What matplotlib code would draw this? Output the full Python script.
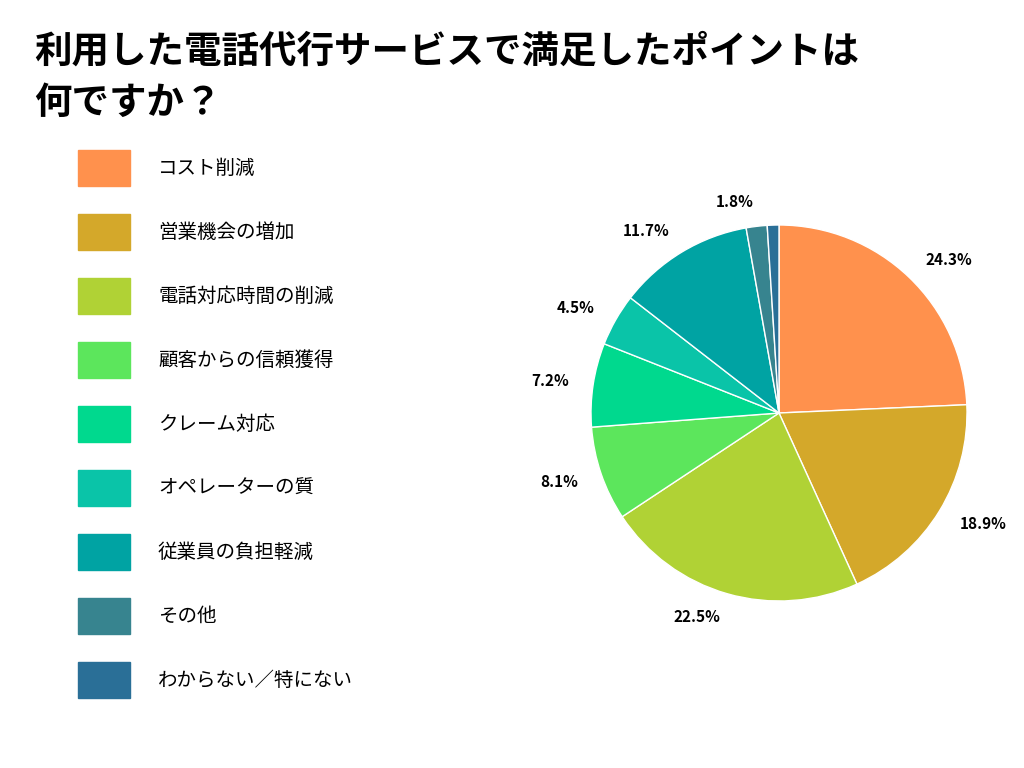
import matplotlib
matplotlib.use('Agg')
import matplotlib.pyplot as plt
from matplotlib.patches import Rectangle

plt.rcParams['font.family'] = 'Noto Sans CJK JP'

# ---------- DATA ----------
TITLE = "利用した電話代行サービスで満足したポイントは\n何ですか？"
categories = ["コスト削減", "営業機会の増加", "電話対応時間の削減", "顧客からの信頼獲得",
              "クレーム対応", "オペレーターの質", "従業員の負担軽減", "その他",
              "わからない／特にない"]
values = [24.3, 18.9, 22.5, 8.1, 7.2, 4.5, 11.7, 1.8, 1.0]
labels = ["24.3%", "18.9%", "22.5%", "8.1%", "7.2%", "4.5%", "11.7%", "1.8%", ""]
colors = ["#FF914D", "#D4A82A", "#B0D235", "#5CE65C", "#00D98E",
          "#0AC4A8", "#00A3A3", "#37848F", "#2A6F97"]
# --------------------------

fig = plt.figure(figsize=(10.24, 7.68), dpi=100)
W, H = 1024, 768

fig.text(34 / W, 1 - 32 / H, TITLE, fontsize=27, fontweight='bold',
         va='top', ha='left', linespacing=1.4)

# legend drawn by hand
for i, (cat, col) in enumerate(zip(categories, colors)):
    top = 150 + i * 64
    fig.patches.append(Rectangle((78 / W, 1 - (top + 36) / H), 52 / W, 36 / H,
                                 transform=fig.transFigure, color=col))
    fig.text(158 / W, 1 - (top + 18) / H, cat, fontsize=14, va='center', ha='left')

half = 215
cx, cy = 779, 413
ax = fig.add_axes([(cx - half) / W, 1 - (cy + half) / H, 2 * half / W, 2 * half / H])
wedges, texts = ax.pie(values, colors=colors, labels=labels, startangle=90,
                       counterclock=False, radius=188 / half, labeldistance=1.13,
                       textprops={'fontsize': 11, 'fontweight': 'bold'},
                       wedgeprops={'linewidth': 1, 'edgecolor': 'white'})
# the original cuts the lowest label at the bottom edge of the chart area
clip = Rectangle((0, 0), 1, 1 - 628 / H, transform=fig.transFigure)
clip = Rectangle((0, 1 - 628 / H), 1, 628 / H, transform=fig.transFigure)
for t in texts:
    t.set_clip_path(clip)
ax.set_xlim(-1, 1)
ax.set_ylim(-1, 1)
ax.set_aspect('equal')
ax.axis('off')

fig.savefig('out.png', dpi=100)
